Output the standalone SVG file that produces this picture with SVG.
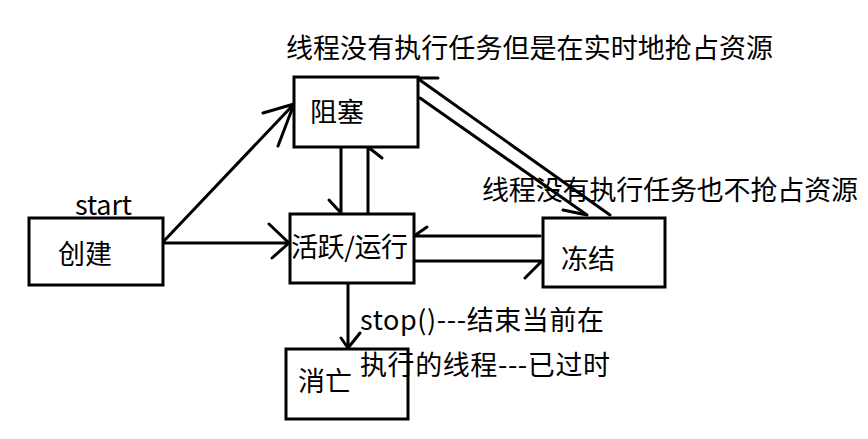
<svg xmlns="http://www.w3.org/2000/svg" width="868" height="439" viewBox="0 0 868 439">
<style>
.box{fill:#fff;stroke:#000;stroke-width:3}
.ln{fill:none;stroke:#000;stroke-width:3;stroke-linecap:round;stroke-linejoin:round}
text{font-family:"Noto Sans CJK SC","Microsoft YaHei",sans-serif;font-size:27px;fill:#000}
</style>
<rect width="868" height="439" fill="#fff"/>
<g id="connectors">
<path class="ln" d="M163,242 L294,104 M263,113 L294,104 L278,146"/>
<path class="ln" d="M163,243 L289,243 M269,224 L289,243 L272,258"/>
<path class="ln" d="M341,147 L341,213 M329,200 L341,213"/>
<path class="ln" d="M368,213 L368,147 L382,158"/>
<path class="ln" d="M540,236 L414,236 L427,227"/>
<path class="ln" d="M414,261 L542,261 L525,278"/>
<path class="ln" d="M610,215 L417,78 L438,78"/>
<path class="ln" d="M420,98 L587,215 L563,210"/>
<path class="ln" d="M348,283 L348,348 M341,338 L348,348 L360,333"/>
</g>
<g id="n-create"><rect class="box" x="29" y="218" width="134" height="67"/><text x="58" y="264">创建</text></g>
<g id="n-blocked"><rect class="box" x="294" y="77" width="124" height="70"/><text x="310" y="122">阻塞</text></g>
<g id="n-running"><rect class="box" x="290" y="214" width="124" height="69"/><text x="291" y="257" textLength="117">活跃/运行</text></g>
<g id="n-frozen"><rect class="box" x="543" y="218" width="122" height="69"/><text x="561" y="269">冻结</text></g>
<g id="n-dead"><rect class="box" x="286" y="349" width="122" height="70"/><text x="298" y="391">消亡</text></g>
<g id="labels">
<text x="286" y="58" textLength="487">线程没有执行任务但是在实时地抢占资源</text>
<text x="482" y="200" textLength="376">线程没有执行任务也不抢占资源</text>
<text x="75" y="215" textLength="57">start</text>
<text x="360" y="330" textLength="244">stop()---结束当前在</text>
<text x="360" y="375" textLength="250">执行的线程---已过时</text>
</g>
</svg>
